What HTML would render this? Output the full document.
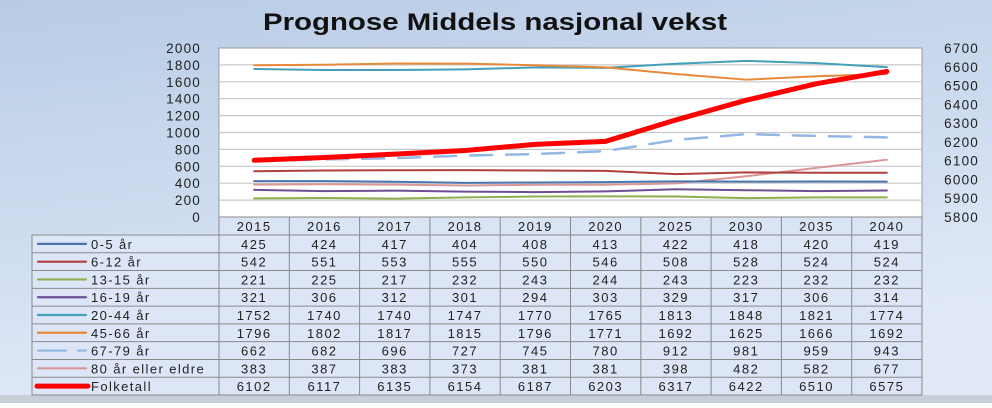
<!DOCTYPE html>
<html><head><meta charset="utf-8">
<style>
html,body{margin:0;padding:0;}
body{width:992px;height:403px;overflow:hidden;font-family:"Liberation Sans",sans-serif;}
</style></head>
<body>
<svg id="chart" width="992" height="403" xmlns="http://www.w3.org/2000/svg" font-family="Liberation Sans, sans-serif">
<defs>
<linearGradient id="bg" x1="0" y1="0" x2="0.3" y2="1">
<stop offset="0" stop-color="#b8cce6"/>
<stop offset="1" stop-color="#e2eaf8"/>
</linearGradient>
</defs>
<rect x="0" y="0" width="992" height="403" fill="url(#bg)"/>
<rect x="0" y="395" width="992" height="8" fill="#c9cfd8"/>
<text x="263" y="30" textLength="464" lengthAdjust="spacingAndGlyphs" font-size="24" font-weight="bold" fill="#111">Prognose Middels nasjonal vekst</text>
<rect x="219" y="48" width="703" height="169" fill="#fff" stroke="#999" stroke-width="1"/>
<g id="grid"></g>
<g id="series"></g>
<g id="table"></g>
</svg>
<script>
const categories=["2015","2016","2017","2018","2019","2020","2025","2030","2035","2040"];
const seriesNames=["0-5 år","6-12 år","13-15 år","16-19 år","20-44 år","45-66 år","67-79 år","80 år eller eldre","Folketall"];
const s0_5=[425,424,417,404,408,413,422,418,420,419];
const s6_12=[542,551,553,555,550,546,508,528,524,524];
const s13_15=[221,225,217,232,243,244,243,223,232,232];
const s16_19=[321,306,312,301,294,303,329,317,306,314];
const s20_44=[1752,1740,1740,1747,1770,1765,1813,1848,1821,1774];
const s45_66=[1796,1802,1817,1815,1796,1771,1692,1625,1666,1692];
const s67_79=[662,682,696,727,745,780,912,981,959,943];
const s80=[383,387,383,373,381,381,398,482,582,677];
const folketall=[6102,6117,6135,6154,6187,6203,6317,6422,6510,6575];
const leftTicks=[0,200,400,600,800,1000,1200,1400,1600,1800,2000];
const rightTicks=[5800,5900,6000,6100,6200,6300,6400,6500,6600,6700];

const NS="http://www.w3.org/2000/svg";
const X0=219,X1=922,Y0=217,Y1=48;
const colW=(X1-X0)/categories.length;
const xOf=i=>X0+colW*(i+0.5);
const yL=v=>Y0-(v-0)/(2000-0)*(Y0-Y1);
const yR=v=>Y0-(v-5800)/(6700-5800)*(Y0-Y1);
function mk(tag,attrs,parent){const e=document.createElementNS(NS,tag);for(const k in attrs)e.setAttribute(k,attrs[k]);parent.appendChild(e);return e;}
const grid=document.getElementById('grid');
leftTicks.forEach(t=>{
  const y=yL(t);
  if(t>0&&t<2000){const l=mk('line',{x1:X0,x2:X1,y1:y,y2:y,stroke:'#c8c8c8','stroke-width':1.2},grid);
  
  }
  const tx=mk('text',{x:201,y:y+5,'text-anchor':'end','font-size':13.5,fill:'#222','letter-spacing':'1.2'},grid);
  
  
  tx.textContent=t;
});
rightTicks.forEach(t=>{
  const y=yR(t);
  const tx=mk('text',{x:979,y:y+5,'text-anchor':'end','font-size':13.5,fill:'#222','letter-spacing':'1.2'},grid);
  
  
  tx.textContent=t;
});
const seriesData=[s0_5,s6_12,s13_15,s16_19,s20_44,s45_66,s67_79,s80,folketall];
const colors=["#4a76b0","#b0403e","#8cb050","#6d4f96","#43a0b8","#e8893a","#93b7e3","#d99796","#ff0000"];
const widths=[2,2,2,2,2,2,2.5,2,5];
const g=document.getElementById('series');
const drawOrder=[7,2,3,0,1,6,4,5,8];
drawOrder.forEach(si=>{
  const d=seriesData[si];
  const yf=si===8?yR:yL;
  const pts=d.map((v,i)=>xOf(i)+','+yf(v)).join(' ');
  const attrs={points:pts,fill:'none',stroke:colors[si],'stroke-width':widths[si],'stroke-linecap':'round','stroke-linejoin':'round'};
  if(si===6)attrs['stroke-dasharray']='22,14';
  const p=mk('polyline',attrs,g);
  
  
});
const tb=document.getElementById('table');
const TL=32,HY0=217,HY1=235,rowH=(395-235)/9;
const hdr=mk('rect',{x:X0,y:HY0,width:X1-X0,height:HY1-HY0,fill:'#d9e4f5',stroke:'#8a8a8a','stroke-width':1},tb);


const body=mk('rect',{x:TL,y:HY1,width:X1-TL,height:395-HY1,fill:'#dce6f6',stroke:'#8a8a8a','stroke-width':1},tb);


categories.forEach((c,i)=>{
  const x=X0+colW*i;
  const l=mk('line',{x1:x,x2:x,y1:HY0,y2:395,stroke:'#8a8a8a','stroke-width':1},tb);
  
  
  const t=mk('text',{x:xOf(i),y:HY0+14,'text-anchor':'middle','font-size':13,fill:'#222','letter-spacing':'1.5'},tb);
  
  
  t.textContent=c;
});
seriesNames.forEach((n,r)=>{
  const y=HY1+rowH*r;
  if(r>0){const l=mk('line',{x1:TL,x2:X1,y1:y,y2:y,stroke:'#8a8a8a','stroke-width':1},tb);
  
  }
  const cy=y+rowH/2;
  const key={x1:r===8?37:38,x2:r===8?88:86,y1:cy,y2:cy,stroke:colors[r],'stroke-width':r===8?5:2.2,'stroke-linecap':'round'};
  if(r===6)key['stroke-dasharray']='28,12';
  const k=mk('line',key,tb);
  
  
  const lt=mk('text',{x:91,y:cy+5,'font-size':13,fill:'#222','letter-spacing':'1.4'},tb);
  
  
  lt.textContent=n;
  seriesData[r].forEach((v,i)=>{
    const t=mk('text',{x:xOf(i),y:cy+5,'text-anchor':'middle','font-size':13,fill:'#222','letter-spacing':'1.5'},tb);
    
    
    t.textContent=v;
  });
});
</script>
</body></html>
